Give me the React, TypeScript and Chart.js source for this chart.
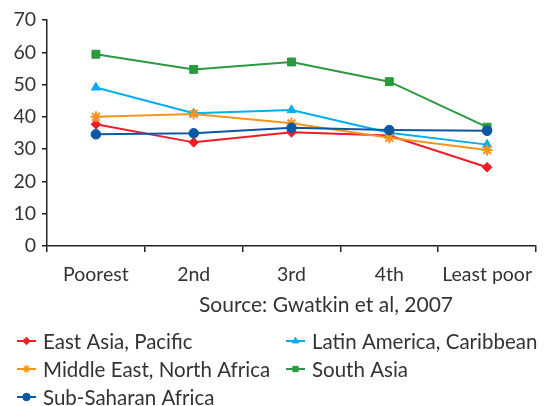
import React, { useEffect, useRef } from "react";
import { Chart, registerables } from "chart.js";
import { drawPoint } from "chart.js/helpers";

Chart.register(...registerables);

const categories = ["Poorest", "2nd", "3rd", "4th", "Least poor"];
const seriesNames = [
  "East Asia, Pacific",
  "Latin America, Caribbean",
  "Middle East, North Africa",
  "South Asia",
  "Sub-Saharan Africa",
];
const eastAsia = [37.7, 32.1, 35.2, 34.2, 24.4];
const latinAmerica = [49.1, 41.1, 42.1, 35.1, 31.4];
const middleEast = [40.0, 40.9, 38.0, 33.5, 29.7];
const southAsia = [59.4, 54.7, 57.0, 50.9, 36.8];
const subSaharan = [34.6, 34.9, 36.6, 35.9, 35.7];
const yTicks = [0, 10, 20, 30, 40, 50, 60, 70];
const sourceText = "Source: Gwatkin et al, 2007";

const colors = ["#EE1C25", "#00AEEF", "#F7941D", "#2B9A3E", "#0B57A4"];
const pointStyles = ["rectRot", "triangle", "star", "rect", "circle"];
const pointRadii = [4.8, 5.2, 5.5, 5.6, 4.8];
const FONT = "Lato, 'Open Sans', sans-serif";
const TEXT = "#333333";

export default function App() {
  const ref = useRef<HTMLCanvasElement | null>(null);
  useEffect(() => {
    document.body.style.margin = "0";
    const canvas = ref.current;
    if (!canvas) return;
    const values = [eastAsia, latinAmerica, middleEast, southAsia, subSaharan];

    const legendPlugin = {
      id: "customLegend",
      afterDraw(chart: any) {
        const ctx = chart.ctx;
        ctx.save();
        ctx.fillStyle = TEXT;
        ctx.font = `21px ${FONT}`;
        ctx.textBaseline = "middle";
        ctx.textAlign = "left";
        ctx.fillText(sourceText, 199, 305);
        const colX = [17, 286];
        const rowY = [341, 369, 397];
        ctx.font = `20.5px ${FONT}`;
        chart.data.datasets.forEach((ds: any, i: number) => {
          const cx = colX[i % 2];
          const cy = rowY[Math.floor(i / 2)];
          ctx.strokeStyle = ds.borderColor;
          ctx.lineWidth = 2;
          ctx.beginPath();
          ctx.moveTo(cx, cy);
          ctx.lineTo(cx + 19, cy);
          ctx.stroke();
          ctx.fillStyle = ds.pointBackgroundColor;
          ctx.strokeStyle = ds.pointBorderColor;
          ctx.lineWidth = ds.pointStyle === "star" ? 1.5 : 1;
          drawPoint(ctx, { pointStyle: ds.pointStyle, rotation: 0, borderWidth: 1, radius: 3.8 }, cx + 9.5, cy);
          ctx.fillStyle = TEXT;
          ctx.fillText(ds.label, cx + 26, cy + 1);
        });
        ctx.restore();
      },
    };

    const chart = new Chart(canvas, {
      type: "line",
      data: {
        labels: categories,
        datasets: seriesNames.map((name, i) => ({
          label: name,
          data: values[i],
          borderColor: colors[i],
          backgroundColor: colors[i],
          pointBackgroundColor: colors[i],
          pointBorderColor: colors[i],
          pointBorderWidth: pointStyles[i] === "star" ? 2 : 1,
          pointStyle: pointStyles[i],
          pointRadius: pointRadii[i],
          borderWidth: 2,
          tension: 0,
          order: 10 - i,
        })),
      },
      plugins: [legendPlugin],
      options: {
        responsive: false,
        animation: false,
        layout: { padding: { top: 20, right: 14, left: 0, bottom: 0 } },
        plugins: {
          legend: { display: false },
          tooltip: { enabled: false },
          title: { display: false },
        },
        scales: {
          x: {
            type: "category",
            offset: true,
            grid: {
              offset: true,
              drawOnChartArea: false,
              drawTicks: true,
              tickLength: 6,
              color: "#222",
              lineWidth: 1.5,
            },
            border: { color: "#222", width: 1.5 },
            ticks: {
              color: TEXT,
              font: { family: FONT, size: 19.5 },
              padding: 11,
              maxRotation: 0,
              autoSkip: false,
            },
            afterFit(scale: any) {
              scale.height = 160;
            },
          },
          y: {
            min: 0,
            max: 70,
            afterBuildTicks(scale: any) {
              scale.ticks = yTicks.map((v) => ({ value: v }));
            },
            grid: {
              drawOnChartArea: false,
              drawTicks: true,
              tickLength: 5,
              color: "#222",
              lineWidth: 1.5,
            },
            border: { color: "#222", width: 1.5 },
            ticks: {
              color: TEXT,
              font: { family: FONT, size: 19.5 },
              padding: 6,
            },
            afterFit(scale: any) {
              scale.width = 47;
            },
          },
        },
      },
    } as any);
    return () => chart.destroy();
  }, []);
  return (
    <div style={{ width: 550, height: 406 }}>
      <canvas ref={ref} width={550} height={406} style={{ display: "block" }} />
    </div>
  );
}
